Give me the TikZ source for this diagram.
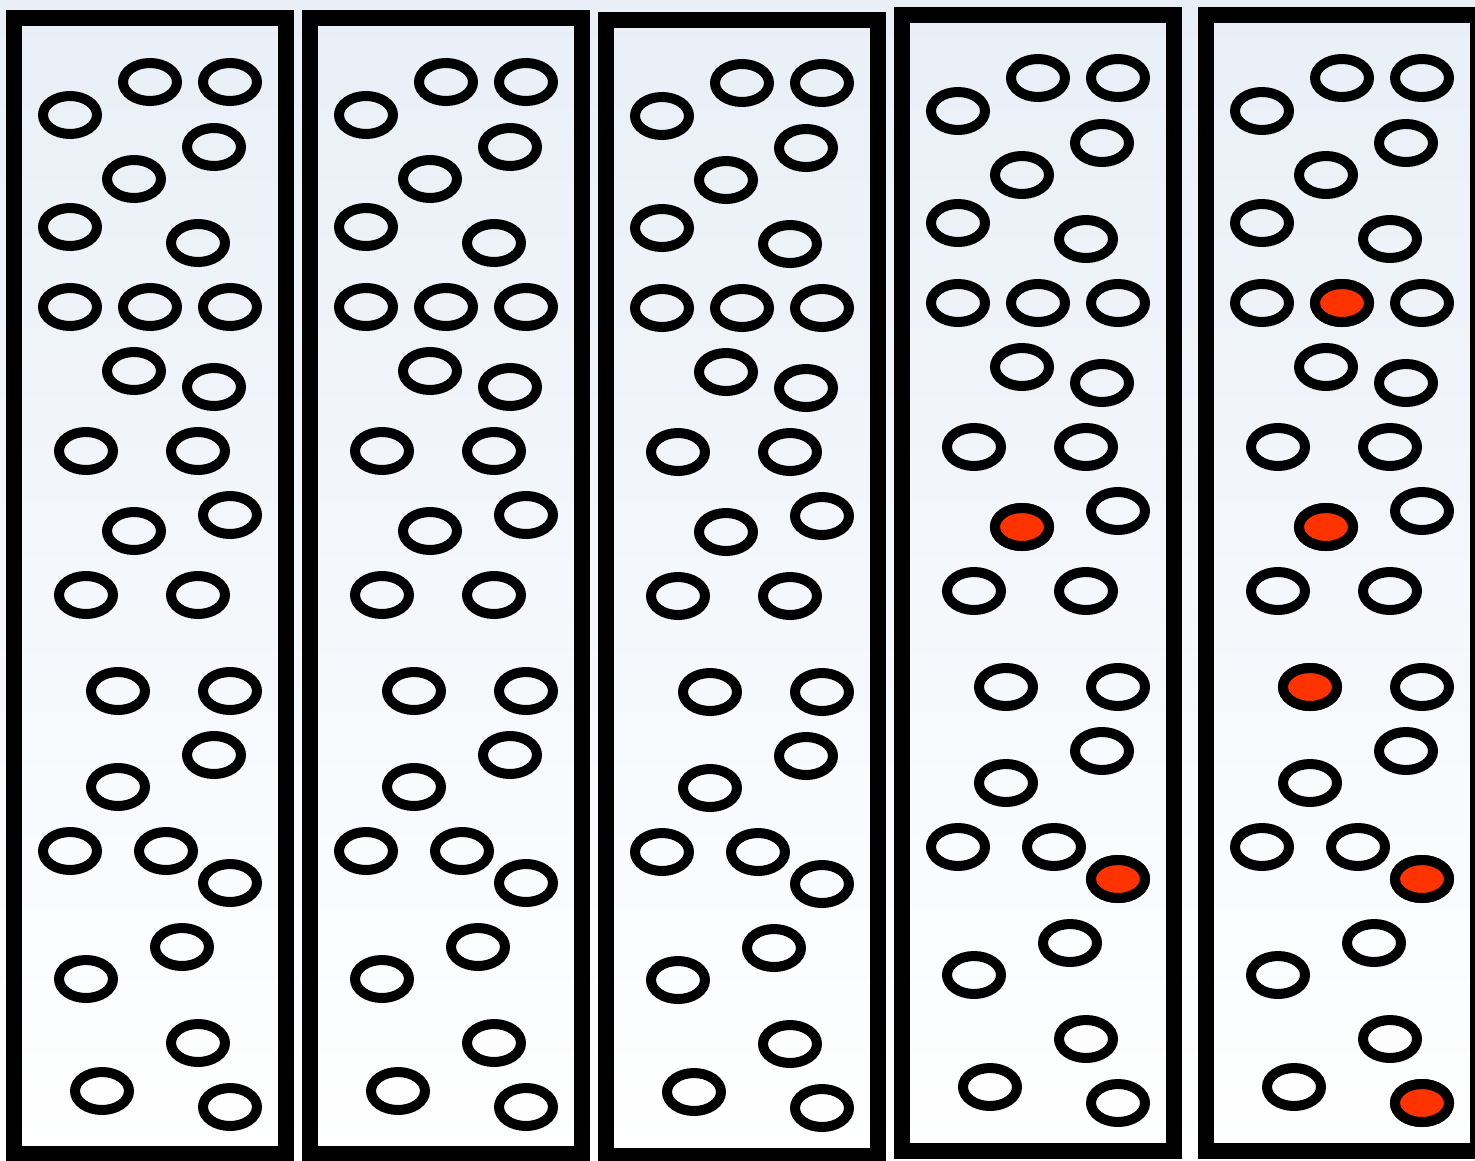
\documentclass[tikz,border=0pt]{standalone}
\definecolor{bgtop}{RGB}{233,239,247}
\definecolor{hotred}{RGB}{255,51,0}
\begin{document}
\begin{tikzpicture}[x=1pt,y=-1pt,
  panelbox/.style={draw=black,line width=16pt},
  bubble/.style={draw=black,line width=10pt},
  hotbubble/.style={bubble,fill=hotred}]
\useasboundingbox (0,0) rectangle (1475,1160);
\clip (0,0) rectangle (1475,1160);
\shade[top color=bgtop,bottom color=white] (0,0) rectangle (1475,1160);
\foreach \dx/\dy/\by in {0/0/0, 296/0/0, 592/1/2, 888/-4/-3, 1192/-4/-3} {
  \draw[panelbox] (14+\dx,18+\by) rectangle (286+\dx,1154+\by);
  \foreach \x/\y in {70/115, 150/82, 230/82, 214/147, 134/179, 70/227, 198/243,
      70/307, 150/307, 230/307, 134/371, 214/387, 86/451, 198/451, 134/531,
      230/515, 86/595, 198/595, 118/691, 230/691, 214/755, 118/787, 70/851,
      166/851, 230/883, 182/947, 86/979, 198/1043, 102/1091, 230/1107} {
    \draw[bubble] (\x+\dx,\y+\dy) ellipse [x radius=27pt, y radius=19pt];
  }
}
\foreach \x/\y in {1022/527, 1118/879, 1342/303, 1326/527, 1310/687, 1422/879, 1422/1103} {
  \draw[hotbubble] (\x,\y) ellipse [x radius=27pt, y radius=19pt];
}
\end{tikzpicture}
\end{document}
